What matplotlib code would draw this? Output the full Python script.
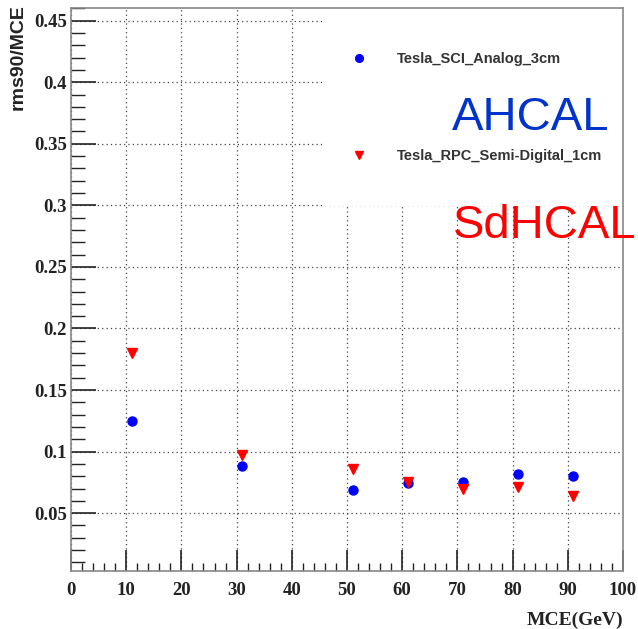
import numpy as np
import matplotlib
matplotlib.use("Agg")
import matplotlib.pyplot as plt
from matplotlib.patches import Rectangle
from matplotlib.ticker import MultipleLocator

# energies (GeV) and rms90/MCE for the two HCAL options
mce = [11, 31, 51, 61, 71, 81, 91]
ahcal = [0.125, 0.0885, 0.0688, 0.0748, 0.0756, 0.0817, 0.0804]
sdhcal = [0.180, 0.0976, 0.0857, 0.0756, 0.0700, 0.0715, 0.0640]
labels = ["Tesla_SCI_Analog_3cm", "Tesla_RPC_Semi-Digital_1cm"]

fig = plt.figure(figsize=(6.38, 6.29), dpi=100)
ax = fig.add_axes([71/638, 58/629, 552/638, 563/629])

ax.plot(mce, ahcal, 'o', color='#0000ff', ms=6.5, mec='#0000ff', zorder=3, label=labels[0])
ax.plot(mce, sdhcal, 'v', color='#ff0000', ms=6.5, mec='#ff0000', zorder=3, label=labels[1])

ax.set_xlim(0, 100)
ax.set_ylim(0.003, 0.4603)
ax.xaxis.set_minor_locator(MultipleLocator(2))
ax.yaxis.set_minor_locator(MultipleLocator(0.01))
ax.set_xticks(np.arange(0, 101, 10))
ax.set_xticklabels([str(v) for v in range(0, 101, 10)])
ax.set_yticks(np.arange(0.05, 0.46, 0.05))
ax.set_yticklabels(['0.05', '0.1', '0.15', '0.2', '0.25', '0.3', '0.35', '0.4', '0.45'])

ax.tick_params(which='both', direction='in', top=False, right=False, color='#222222')
ax.tick_params(which='major', length=15, width=1.2)
ax.tick_params(which='minor', length=6, width=1.0)
ax.tick_params(axis='y', which='major', length=18)
ax.tick_params(axis='y', which='minor', length=10)
ax.tick_params(axis='y', pad=3)
ax.tick_params(axis='x', pad=8)
for lab in ax.get_xticklabels() + ax.get_yticklabels():
    lab.set_fontfamily('Liberation Serif')
    lab.set_fontweight('bold')
    lab.set_fontsize(13.5)
    lab.set_color('#222222')

for s in ax.spines.values():
    s.set_color('#888888')
    s.set_linewidth(1.2)

ax.set_axisbelow(True)
ax.grid(True, which='major', color='#444444', linestyle=(0, (1, 2.5)), linewidth=0.9)

# white legend area hides the grid
ax.add_patch(Rectangle((0.455, 0.648), 0.545, 0.352, transform=ax.transAxes,
                       facecolor='white', edgecolor='none', zorder=1))

leg = ax.legend(loc='upper left', bbox_to_anchor=(352/638, 1 - 52/629),
                bbox_transform=fig.transFigure, frameon=False,
                prop={'family': 'Liberation Sans', 'weight': 'bold', 'size': 10.5},
                handlelength=1.0, handletextpad=2.1, labelspacing=5.7,
                borderpad=0, borderaxespad=0, markerscale=0.85)
for t in leg.get_texts():
    t.set_color('#333333')

ax.set_ylabel('rms90/MCE', loc='top', fontfamily='Liberation Sans',
              fontweight='bold', fontsize=14, color='#222222')
ax.yaxis.set_label_coords((27 - 71)/552, (571 - 4)/563)
ax.set_xlabel('MCE(GeV)', loc='right', fontfamily='Liberation Serif',
              fontweight='bold', fontsize=14, color='#222222')
ax.xaxis.set_label_coords(1.0, -(612 - 571)/563)

fig.text(452/638, 1 - 130/629, 'AHCAL', color='#0033cc', fontsize=34,
         fontfamily='Liberation Sans', ha='left', va='baseline')
fig.text(453/638, 1 - 238/629, 'SdHCAL', color='#ff0000', fontsize=34,
         fontfamily='Liberation Sans', ha='left', va='baseline')

fig.savefig('out.png', dpi=100, facecolor='white')
